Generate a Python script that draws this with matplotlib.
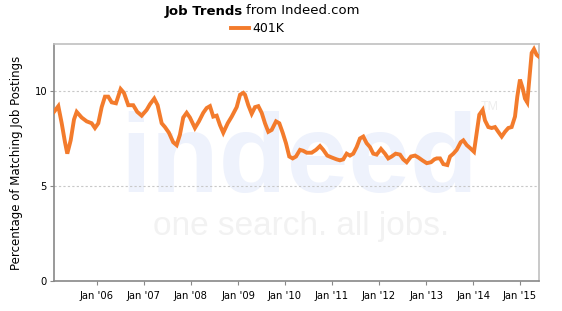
import matplotlib
matplotlib.use("Agg")
import matplotlib.pyplot as plt
import pandas as pd
import numpy as np

# ---- data (decimal year, % of matching job postings) ----
years = [
    2005.085, 2005.177, 2005.249, 2005.319, 2005.368, 2005.440, 2005.511, 2005.568,
    2005.674, 2005.781, 2005.887, 2005.957, 2006.028, 2006.100, 2006.170, 2006.240,
    2006.313, 2006.404, 2006.504, 2006.574, 2006.666, 2006.772, 2006.857, 2006.951,
    2007.057, 2007.128, 2007.219, 2007.291, 2007.377, 2007.447, 2007.532, 2007.623,
    2007.696, 2007.766, 2007.836, 2007.909, 2007.979, 2008.085, 2008.170, 2008.262,
    2008.334, 2008.404, 2008.474, 2008.547, 2008.617, 2008.687, 2008.781, 2008.866,
    2008.972, 2009.043, 2009.113, 2009.149, 2009.219, 2009.291, 2009.362, 2009.432,
    2009.504, 2009.574, 2009.645, 2009.717, 2009.809, 2009.879, 2009.951, 2010.021,
    2010.091, 2010.164, 2010.234, 2010.319, 2010.389, 2010.462, 2010.568, 2010.660,
    2010.745, 2010.815, 2010.900, 2010.994, 2011.100, 2011.170, 2011.240, 2011.313,
    2011.383, 2011.453, 2011.526, 2011.596, 2011.666, 2011.738, 2011.809, 2011.879,
    2011.951, 2012.043, 2012.128, 2012.198, 2012.270, 2012.355, 2012.447, 2012.517,
    2012.589, 2012.681, 2012.766, 2012.836, 2012.921, 2013.015, 2013.106, 2013.177,
    2013.228, 2013.298, 2013.368, 2013.453, 2013.511, 2013.581, 2013.653, 2013.738,
    2013.794, 2013.866, 2013.936, 2014.021, 2014.079, 2014.134, 2014.206, 2014.255,
    2014.326, 2014.398, 2014.468, 2014.538, 2014.611, 2014.681, 2014.751, 2014.823,
    2014.894, 2014.943, 2015.000, 2015.057, 2015.106, 2015.155, 2015.198, 2015.249,
    2015.298, 2015.355, 2015.404,
]
values = [
    8.9, 9.2, 8.3, 7.3, 6.7, 7.4, 8.5, 8.9,
    8.6, 8.4, 8.3, 8.05, 8.3, 9.15, 9.7, 9.7,
    9.4, 9.35, 10.1, 9.9, 9.25, 9.25, 8.9, 8.7,
    9.0, 9.3, 9.6, 9.25, 8.3, 8.1, 7.8, 7.3,
    7.15, 7.7, 8.6, 8.85, 8.6, 8.05, 8.4, 8.85,
    9.1, 9.2, 8.65, 8.7, 8.2, 7.8, 8.3, 8.65,
    9.15, 9.8, 9.9, 9.8, 9.25, 8.8, 9.15, 9.2,
    8.85, 8.3, 7.85, 7.95, 8.4, 8.3, 7.8, 7.25,
    6.55, 6.45, 6.55, 6.9, 6.85, 6.75, 6.75, 6.9,
    7.1, 6.9, 6.6, 6.5, 6.4, 6.35, 6.4, 6.7,
    6.6, 6.7, 7.05, 7.5, 7.6, 7.25, 7.05, 6.7,
    6.65, 6.95, 6.7, 6.45, 6.55, 6.7, 6.65, 6.4,
    6.25, 6.55, 6.6, 6.5, 6.35, 6.2, 6.25, 6.4,
    6.45, 6.45, 6.15, 6.1, 6.55, 6.7, 6.9, 7.3,
    7.4, 7.15, 7.0, 6.8, 7.8, 8.75, 9.0, 8.45,
    8.1, 8.05, 8.1, 7.85, 7.6, 7.85, 8.05, 8.1,
    8.65, 9.7, 10.6, 10.15, 9.6, 9.4, 10.6, 12.0,
    12.2, 11.9, 11.8,
]
series_name = "401K"
tick_years = [2006, 2007, 2008, 2009, 2010, 2011, 2012, 2013, 2014, 2015]
tick_labels = ["Jan '06", "Jan '07", "Jan '08", "Jan '09", "Jan '10",
               "Jan '11", "Jan '12", "Jan '13", "Jan '14", "Jan '15"]
y_ticks = [0, 5, 10]


def dec_to_date(y):
    yr = int(np.floor(y))
    start = pd.Timestamp(year=yr, month=1, day=1)
    end = pd.Timestamp(year=yr + 1, month=1, day=1)
    return start + (end - start) * (y - yr)


dates = [dec_to_date(y) for y in years]

W, H = 562, 311
fig = plt.figure(figsize=(W / 100, H / 100), dpi=100)
fig.patch.set_facecolor("white")
ax = fig.add_axes([54 / W, 1 - 281 / H, (539 - 54) / W, (281 - 44) / H])

orange = "#F37B2C"

# watermark
ax.text(0.505, 0.375, "indeed", transform=ax.transAxes, ha="center", va="baseline",
        fontsize=80, fontweight="bold", family="Liberation Sans", color="#EEF2FC", zorder=0)
ax.text(0.51, 0.195, "one search. all jobs.", transform=ax.transAxes, ha="center",
        va="baseline", fontsize=24, family="Liberation Sans", color="#F2F2F2", zorder=0)
ax.text(0.898, 0.72, "TM", transform=ax.transAxes, ha="center", va="baseline",
        fontsize=9, family="Liberation Sans", color="#EEEEEE", zorder=0)

ax.plot(dates, values, color=orange, lw=2.8, solid_joinstyle="miter", zorder=3,
        label=series_name)

ax.set_xlim(dec_to_date(2005.085), dec_to_date(2015.405))
ax.set_ylim(0, 12.47)

ax.set_yticks(y_ticks)
ax.set_yticklabels([str(v) for v in y_ticks])
ax.set_xticks([pd.Timestamp(year=y, month=1, day=1) for y in tick_years])
ax.set_xticklabels(tick_labels)

for v in [5, 10]:
    ax.axhline(v, color="#C8C8C8", lw=0.8, ls=(0, (2, 2)), zorder=1)

ax.tick_params(axis="both", labelsize=7.2, colors="#000000", length=3, width=0.8,
               direction="out")
ax.tick_params(axis="x", pad=4, color="#888888")
ax.tick_params(axis="y", pad=2, color="#888888")

for side in ["left", "bottom"]:
    ax.spines[side].set_color("#888888")
    ax.spines[side].set_linewidth(1.2)
for side in ["top", "right"]:
    ax.spines[side].set_color("#C0C0C0")
    ax.spines[side].set_linewidth(1.2)

ax.set_ylabel("Percentage of Matching Job Postings", fontsize=8.5, labelpad=8)

fig.text(243 / W, 1 - 11 / H, "Job Trends", ha="right", va="center", fontsize=9.5,
         fontweight="bold")
fig.text(246 / W, 1 - 11 / H, "from Indeed.com", ha="left", va="center", fontsize=9.5)

ax.legend(loc="center", bbox_to_anchor=(258 / W, 1 - 29 / H), bbox_transform=fig.transFigure,
          frameon=False, fontsize=9, handlelength=1.4, handletextpad=0.3,
          borderpad=0, borderaxespad=0)

fig.savefig("out.png", dpi=100, facecolor="white")
